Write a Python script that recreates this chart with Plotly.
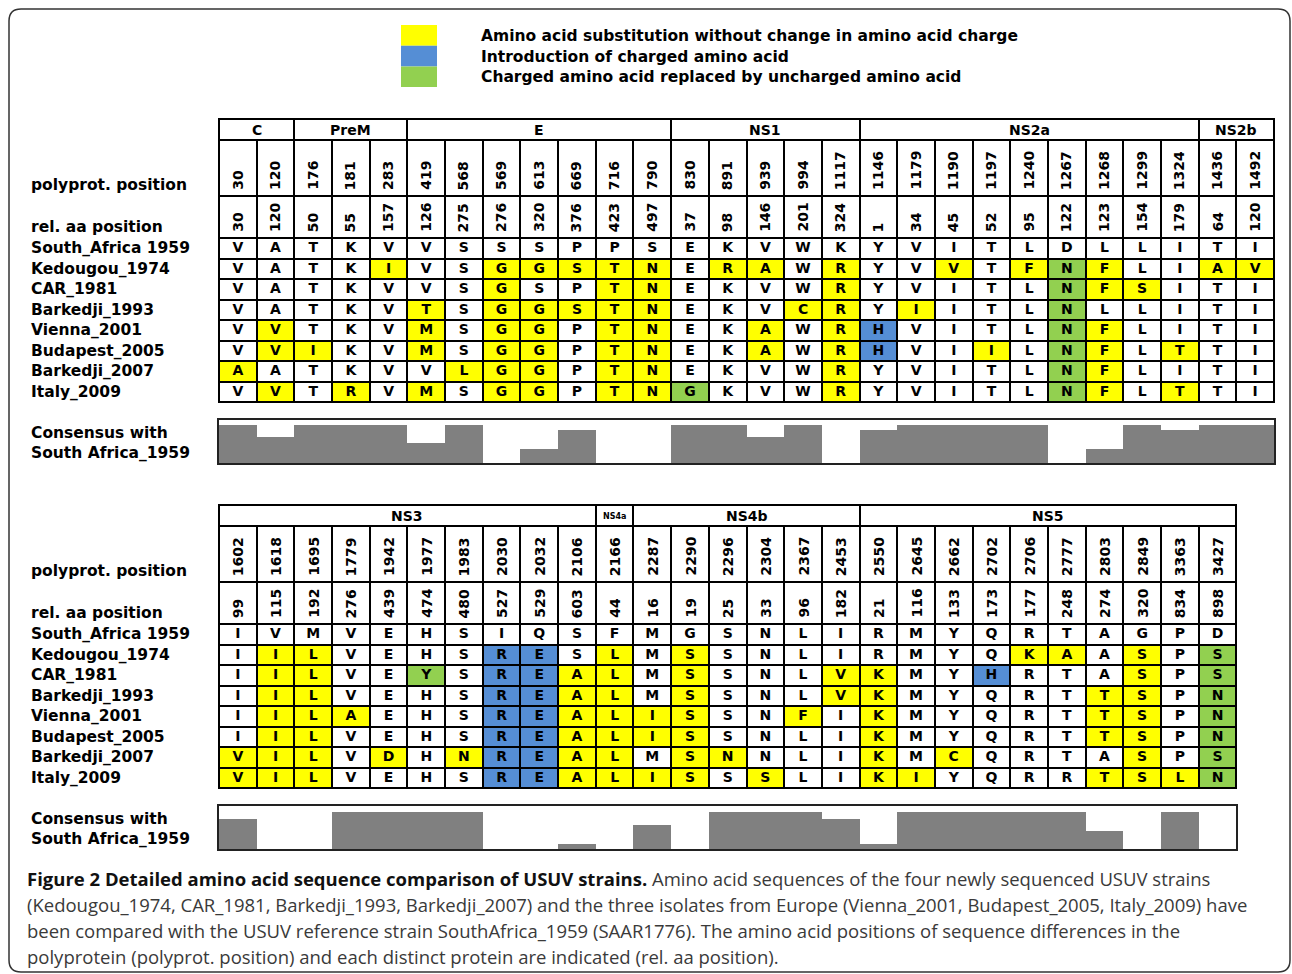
import plotly.graph_objects as go

W, H = 1292, 974

# ---------------- data ----------------
strains = ["South_Africa 1959", "Kedougou_1974", "CAR_1981", "Barkedji_1993",
           "Vienna_2001", "Budapest_2005", "Barkedji_2007", "Italy_2009"]

top_genes = ["C", "PreM", "E", "NS1", "NS2a", "NS2b"]
top_gene_sizes = [2, 3, 7, 5, 9, 2]
top_polyprot = [30, 120, 176, 181, 283, 419, 568, 569, 613, 669, 716, 790, 830, 891,
                939, 994, 1117, 1146, 1179, 1190, 1197, 1240, 1267, 1268, 1299, 1324, 1436, 1492]
top_rel = [30, 120, 50, 55, 157, 126, 275, 276, 320, 376, 423, 497, 37, 98,
           146, 201, 324, 1, 34, 45, 52, 95, 122, 123, 154, 179, 64, 120]
top_seq = [
    "VATKVVSSSPPSEKVWKYVITLDLLITI",
    "VATKIVSGGSTNERAWRYVVTFNFLIAV",
    "VATKVVSGSPTNEKVWRYVITLNFSITI",
    "VATKVTSGGSTNEKVCRYIITLNLLITI",
    "VVTKVMSGGPTNEKAWRHVITLNFLITI",
    "VVIKVMSGGPTNEKAWRHVIILNFLTTI",
    "AATKVVLGGPTNEKVWRYVITLNFLITI",
    "VVTRVMSGGPTNGKVWRYVITLNFLTTI",
]
# y = substitution w/o charge change, b = charged aa introduced, g = charged -> uncharged
top_col = [
    "............................",
    "....y..yyyyy.yy.y..y.ygy..yy",
    ".......y..yy....y.....gyy...",
    ".....y.yyyyy...yy.y...g.....",
    ".y...y.yy.yy..y.yb....gy....",
    ".yy..y.yy.yy..y.yb..y.gy.y..",
    "y.....yyy.yy....y.....gy....",
    ".y.y.y.yy.yyg...y.....gy.y..",
]
top_consensus = [0.89, 0.61, 0.89, 0.89, 0.89, 0.46, 0.89, 0.0, 0.32, 0.77, 0.0, 0.0, 0.89, 0.89,
                 0.61, 0.89, 0.0, 0.77, 0.89, 0.89, 0.89, 0.89, 0.0, 0.32, 0.89, 0.77, 0.89, 0.89]

bot_genes = ["NS3", "NS4a", "NS4b", "NS5"]
bot_gene_sizes = [10, 1, 6, 10]
bot_polyprot = [1602, 1618, 1695, 1779, 1942, 1977, 1983, 2030, 2032, 2106, 2166, 2287, 2290, 2296,
                2304, 2367, 2453, 2550, 2645, 2662, 2702, 2706, 2777, 2803, 2849, 3363, 3427]
bot_rel = [99, 115, 192, 276, 439, 474, 480, 527, 529, 603, 44, 16, 19, 25,
           33, 96, 182, 21, 116, 133, 173, 177, 248, 274, 320, 834, 898]
bot_seq = [
    "IVMVEHSIQSF" + "MGSNLI" + "RMYQRTAGPD",
    "IILVEHSRESL" + "MSSNLI" + "RMYQKAASPS",
    "IILVEYSREAL" + "MSSNLV" + "KMYHRTASPS",
    "IILVEHSREAL" + "MSSNLV" + "KMYQRTTSPN",
    "IILAEHSREAL" + "ISSNFI" + "KMYQRTTSPN",
    "IILVEHSREAL" + "ISSNLI" + "KMYQRTTSPN",
    "VILVDHNREAL" + "MSNNLI" + "KMCQRTASPS",
    "VILVEHSREAL" + "ISSSLI" + "KIYQRRTSLN",
]
bot_col = [
    "..........." + "......" + "..........",
    ".yy....bb.y" + ".y...." + "....yy.y.g",
    ".yy..g.bbyy" + ".y...y" + "y..b...y.g",
    ".yy....bbyy" + ".y...y" + "y.....yy.g",
    ".yyy...bbyy" + "yy..y." + "y.....yy.g",
    ".yy....bbyy" + "yy...." + "y.....yy.g",
    "yyy.y.ybbyy" + ".yy..." + "y.y....y.g",
    "yyy....bbyy" + "yy.y.." + "yy....yyyg",
]
bot_consensus = [0.70, 0.0, 0.0, 0.86, 0.86, 0.86, 0.86, 0.0, 0.0, 0.12, 0.0, 0.56, 0.0, 0.86,
                 0.86, 0.86, 0.70, 0.12, 0.86, 0.86, 0.86, 0.86, 0.86, 0.41, 0.0, 0.86, 0.0]

legend_labels = ["Amino acid substitution without change in amino acid charge",
                 "Introduction of charged amino acid",
                 "Charged amino acid replaced by uncharged amino acid"]

caption_lines = [
    "<b>Figure 2 Detailed amino acid sequence comparison of USUV strains.</b> "
    "<span style='color:#3a3a3a'>Amino acid sequences of the four newly sequenced USUV strains</span>",
    "(Kedougou_1974, CAR_1981, Barkedji_1993, Barkedji_2007) and the three isolates from Europe (Vienna_2001, Budapest_2005, Italy_2009) have",
    "been compared with the USUV reference strain SouthAfrica_1959 (SAAR1776). The amino acid positions of sequence differences in the",
    "polyprotein (polyprot. position) and each distinct protein are indicated (rel. aa position).",
]

# ---------------- style ----------------
YEL, BLU, GRN, GRY = "#ffff00", "#558ed5", "#92d050", "#808080"
CODE = {".": 0, "y": 1, "b": 2, "g": 3}
FONT = "DejaVu Sans"
H_GENE, H_POLY, H_REL, H_ROW = 21, 56, 42, 20.5
TABLE_H = H_GENE + H_POLY + H_REL + 8 * H_ROW

def px(x):
    return x / W

def py(y):
    return 1 - y / H

fig = go.Figure()

colorscale = [[0, "white"], [1 / 6, "white"], [1 / 6, YEL], [0.5, YEL],
              [0.5, BLU], [5 / 6, BLU], [5 / 6, GRN], [1, GRN]]

panels = [
    dict(ax="", genes=top_genes, sizes=top_gene_sizes, poly=top_polyprot, rel=top_rel,
         seq=top_seq, col=top_col, cons=top_consensus, top=119, cons_top=420, x0=219),
    dict(ax="3", genes=bot_genes, sizes=bot_gene_sizes, poly=bot_polyprot, rel=bot_rel,
         seq=bot_seq, col=bot_col, cons=bot_consensus, top=505, cons_top=806, x0=219),
]
CELL_W = 37.68
annotations = []
shapes = []

for i, p in enumerate(panels):
    n = len(p["poly"])
    tx = "x" + p["ax"]
    ty = "y" + p["ax"]
    cax = str(2 + 2 * i)
    cx = "x" + cax
    cy = "y" + cax
    x_edges = list(range(n + 1))
    # rows: poly, rel, then strains
    y_edges = [H_GENE, H_GENE + H_POLY, H_GENE + H_POLY + H_REL]
    for k in range(len(strains)):
        y_edges.append(y_edges[2] + (k + 1) * H_ROW)
    z = [[0] * n, [0] * n] + [[CODE[c] for c in row] for row in p["col"]]
    fig.add_trace(go.Heatmap(z=z, x=x_edges, y=y_edges, xaxis=tx, yaxis=ty,
                             colorscale=colorscale, zmin=0, zmax=3, showscale=False,
                             xgap=2, ygap=2, hoverinfo="skip"))
    # gene header row (merged cells)
    g_edges = [0]
    for s in p["sizes"]:
        g_edges.append(g_edges[-1] + s)
    fig.add_trace(go.Heatmap(z=[[0] * len(p["genes"])], x=g_edges, y=[0, H_GENE],
                             xaxis=tx, yaxis=ty, colorscale=colorscale, zmin=0, zmax=3,
                             showscale=False, xgap=2, ygap=2, hoverinfo="skip"))
    for g, a, b in zip(p["genes"], g_edges[:-1], g_edges[1:]):
        annotations.append(dict(x=(a + b) / 2, y=H_GENE / 2 + 0.5, xref=tx, yref=ty, text=g,
                                showarrow=False, yanchor="middle",
                                font=dict(family=FONT, size=8 if g == "NS4a" else 14,
                                          weight="bold", color="black")))
    # rotated header numbers
    for j in range(n):
        annotations.append(dict(x=j + 0.5, y=H_GENE + H_POLY - 4, xref=tx, yref=ty,
                                text=str(p["poly"][j]), textangle=-90, showarrow=False,
                                xanchor="center", yanchor="bottom",
                                font=dict(family=FONT, size=14, weight="bold", color="black")))
        annotations.append(dict(x=j + 0.5, y=H_GENE + H_POLY + H_REL - 4, xref=tx, yref=ty,
                                text=str(p["rel"][j]), textangle=-90, showarrow=False,
                                xanchor="center", yanchor="bottom",
                                font=dict(family=FONT, size=14, weight="bold", color="black")))
    # residues
    xs, ys, ts = [], [], []
    for k, row in enumerate(p["seq"]):
        for j, ch in enumerate(row):
            xs.append(j + 0.5)
            ys.append(y_edges[2] + (k + 0.5) * H_ROW + 0.5)
            ts.append(ch)
    fig.add_trace(go.Scatter(x=xs, y=ys, text=ts, mode="text", xaxis=tx, yaxis=ty,
                             textfont=dict(family=FONT, size=14, weight="bold", color="black"),
                             hoverinfo="skip", showlegend=False))
    # row labels
    lab = dict(xref="paper", yref=ty, x=px(29), xanchor="left", yanchor="middle",
               showarrow=False,
               font=dict(family=FONT, size=15.5, weight="bold", color="black"))
    annotations.append(dict(lab, y=H_GENE + H_POLY - 11, text="polyprot. position"))
    annotations.append(dict(lab, y=H_GENE + H_POLY + H_REL - 11, text="rel. aa position"))
    for k, s in enumerate(strains):
        annotations.append(dict(lab, y=y_edges[2] + (k + 0.5) * H_ROW, text=s))
    # black background for grid lines
    shapes.append(dict(type="rect", xref=tx + " domain", yref=ty + " domain", x0=0, x1=1,
                       y0=0, y1=1, fillcolor="black", line=dict(width=0), layer="below"))
    # consensus bars
    fig.add_trace(go.Bar(x=[j + 0.5 for j in range(n)], y=p["cons"], width=1,
                         xaxis=cx, yaxis=cy, marker=dict(color=GRY, line=dict(width=0)),
                         hoverinfo="skip", showlegend=False))
    ct = p["cons_top"]
    clab = dict(lab, yref="paper")
    annotations.append(dict(clab, y=py(ct + 13), text="Consensus with"))
    annotations.append(dict(clab, y=py(ct + 33), text="South Africa_1959"))

    x1 = p["x0"] + n * CELL_W
    axis_common = dict(showgrid=False, zeroline=False, showticklabels=False, ticks="",
                       fixedrange=True)
    fig.layout["xaxis" + p["ax"]] = dict(axis_common, domain=[px(p["x0"]), px(x1)],
                                          range=[0, n], anchor=ty, showline=True, mirror=True,
                                          linecolor="black", linewidth=1)
    fig.layout["yaxis" + p["ax"]] = dict(axis_common, domain=[py(p["top"] + TABLE_H), py(p["top"])],
                                          range=[TABLE_H, 0], anchor=tx, showline=True,
                                          mirror=True, linecolor="black", linewidth=1)
    fig.layout["xaxis" + cax] = dict(axis_common, domain=[px(p["x0"]), px(x1)], range=[0, n],
                                      anchor=cy, showline=True, mirror=True, linecolor="#222",
                                      linewidth=2)
    fig.layout["yaxis" + cax] = dict(axis_common, domain=[py(ct + 43), py(ct)], range=[0, 1],
                                      anchor=cx, showline=True, mirror=True, linecolor="#222",
                                      linewidth=2)

# legend blocks
for k, (c, t) in enumerate(zip([YEL, BLU, GRN], legend_labels)):
    shapes.append(dict(type="rect", xref="paper", yref="paper", x0=px(401), x1=px(437),
                       y0=py(25 + 20.7 * (k + 1)), y1=py(25 + 20.7 * k), fillcolor=c,
                       line=dict(width=0)))
    annotations.append(dict(xref="paper", yref="paper", x=px(479), y=py(36 + 20.5 * k),
                            xanchor="left", yanchor="middle", text=t, showarrow=False,
                            font=dict(family=FONT, size=15.5, weight="bold", color="black")))

# caption
for k, t in enumerate(caption_lines):
    annotations.append(dict(xref="paper", yref="paper", x=px(25), y=py(878 + 26 * k),
                            xanchor="left", yanchor="middle", text=t, showarrow=False,
                            font=dict(family="Open Sans", size=18.5,
                                      color="#111" if k == 0 else "#3a3a3a")))

# rounded outer frame
fx0, fy0, fx1, fy1, r = 9, 9, 1290, 972, 12
pts = lambda x, y: f"{px(x)},{py(y)}"
path = (f"M {pts(fx0 + r, fy0)} L {pts(fx1 - r, fy0)} Q {pts(fx1, fy0)} {pts(fx1, fy0 + r)} "
        f"L {pts(fx1, fy1 - r)} Q {pts(fx1, fy1)} {pts(fx1 - r, fy1)} "
        f"L {pts(fx0 + r, fy1)} Q {pts(fx0, fy1)} {pts(fx0, fy1 - r)} "
        f"L {pts(fx0, fy0 + r)} Q {pts(fx0, fy0)} {pts(fx0 + r, fy0)} Z")
shapes.append(dict(type="path", xref="paper", yref="paper", path=path,
                   line=dict(color="#333", width=1.5)))

fig.update_layout(width=W, height=H, margin=dict(l=0, r=0, t=0, b=0),
                  paper_bgcolor="white", plot_bgcolor="white", showlegend=False,
                  annotations=annotations, shapes=shapes, bargap=0)

fig.write_html("out.html", config={"displayModeBar": False},
               post_script="document.body.style.margin='0';document.body.style.overflow='hidden';")
